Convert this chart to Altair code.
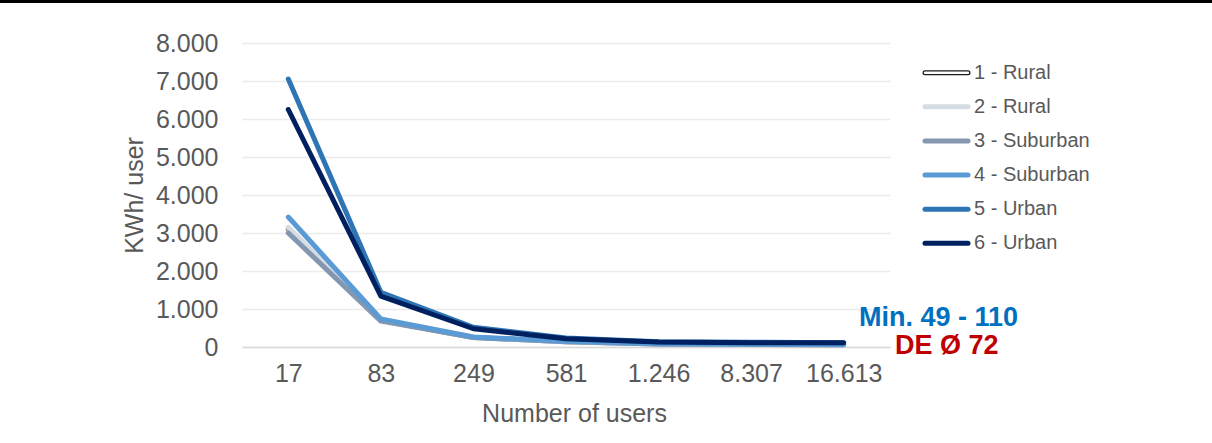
import altair as alt
import pandas as pd

# ---------------- data ----------------
users = ["17", "83", "249", "581", "1.246", "8.307", "16.613"]
series_names = ["1 - Rural", "2 - Rural", "3 - Suburban", "4 - Suburban", "5 - Urban", "6 - Urban"]
rural_1 = [3100, 700, 250, 140, 80, 70, 60]
rural_2 = [3150, 710, 255, 140, 80, 70, 60]
suburban_3 = [3000, 680, 250, 140, 80, 70, 60]
suburban_4 = [3420, 740, 265, 150, 85, 75, 65]
urban_5 = [7050, 1440, 520, 240, 140, 125, 115]
urban_6 = [6250, 1340, 480, 220, 130, 115, 110]
series_colors = ["#ffffff", "#d6dce4", "#8497b0", "#5b9bd5", "#2e75b6", "#002060"]
y_ticks = [0, 1000, 2000, 3000, 4000, 5000, 6000, 7000, 8000]
annotations = ["Min. 49 - 110", "DE Ø 72"]
annotation_colors = ["#0070C0", "#C00000"]

all_series = [rural_1, rural_2, suburban_3, suburban_4, urban_5, urban_6]
rows = []
for name, vals in zip(series_names, all_series):
    for u, v in zip(users, vals):
        rows.append({"series": name, "users": u, "value": v})
df = pd.DataFrame(rows)
legend_df = pd.DataFrame({"series": series_names})

FONT = "Liberation Sans"
GREY = "#595959"

x_enc = alt.X(
    "users:N",
    sort=users,
    scale=alt.Scale(type="point", domain=users, padding=0.5),
    axis=alt.Axis(
        title="Number of users", labelAngle=0, labelFontSize=25, labelColor=GREY,
        labelPadding=14, labelFont=FONT, domain=True, domainColor="#d9d9d9",
        domainWidth=1.5, ticks=False, grid=False, titleFontSize=25,
        titleFontWeight="normal", titleColor=GREY, titleFont=FONT,
        titleX=332, titleY=74, titleBaseline="alphabetic",
    ),
)
y_enc = alt.Y(
    "value:Q",
    scale=alt.Scale(domain=[0, 8000], nice=False),
    axis=alt.Axis(
        values=y_ticks,
        labelExpr="replace(format(datum.value, ','), ',', '.')",
        labelFontSize=25, labelColor=GREY, labelPadding=24, labelFont=FONT,
        domain=False, ticks=False, gridColor="#ebebeb", gridWidth=1.3,
        title="KWh/ user", titleFontSize=25, titleFontWeight="normal",
        titleColor=GREY, titleFont=FONT, titleAngle=-90, titleX=-100,
        titleY=152, titleAlign="center", titleBaseline="alphabetic",
    ),
)
color_enc = alt.Color(
    "series:N", scale=alt.Scale(domain=series_names, range=series_colors), legend=None
)
is_first = f"datum.series == '{series_names[0]}'"

base = alt.Chart(df)
outline = base.mark_line(color="#7f7f7f", strokeWidth=5, strokeCap="round", strokeJoin="round").encode(
    x=x_enc, y=y_enc, detail="series:N"
).transform_filter(is_first)
lines = base.mark_line(strokeCap="round", strokeJoin="round").encode(
    x=x_enc, y=y_enc, color=color_enc,
    strokeWidth=alt.condition(is_first, alt.value(2.6), alt.value(5)),
)
plot_layer = alt.layer(outline, lines)

# ---------------- manual legend ----------------
leg_y = alt.Y("series:N", sort=series_names,
              scale=alt.Scale(type="point", domain=series_names, range=[29.7, 200.3], padding=0),
              axis=None)
lbase = alt.Chart(legend_df)
leg_outline = lbase.mark_rule(color="#1a1a1a", strokeWidth=5, strokeCap="round").encode(
    x=alt.value(683), x2=alt.value(726), y=leg_y
).transform_filter(is_first)
leg_rules = lbase.mark_rule(strokeCap="round").encode(
    x=alt.value(683), x2=alt.value(726), y=leg_y, color=color_enc,
    strokeWidth=alt.condition(is_first, alt.value(2.4), alt.value(5)),
)
leg_text = lbase.mark_text(align="left", baseline="middle", fontSize=20, color=GREY, font=FONT).encode(
    x=alt.value(732), y=leg_y, text="series:N"
)
legend_layer = alt.layer(leg_outline, leg_rules, leg_text)

# ---------------- annotations ----------------
ann1 = alt.Chart(pd.DataFrame({"label": [annotations[0]]})).mark_text(
    align="left", baseline="alphabetic", fontSize=27, fontWeight="bold",
    color=annotation_colors[0], font=FONT
).encode(x=alt.value(617), y=alt.value(282.5), text="label:N")
ann2 = alt.Chart(pd.DataFrame({"label": [annotations[1]]})).mark_text(
    align="left", baseline="alphabetic", fontSize=27, fontWeight="bold",
    color=annotation_colors[1], font=FONT
).encode(x=alt.value(653), y=alt.value(310.5), text="label:N")

top_rule = alt.Chart(pd.DataFrame({"k": [0]})).mark_rule(color="black", strokeWidth=3).encode(
    x=alt.value(-242), x2=alt.value(970), y=alt.value(-41.5)
)

chart = alt.layer(plot_layer, legend_layer, ann1, ann2, top_rule).resolve_scale(
    y="independent"
).properties(
    width=648,
    height=304,
    autosize=alt.AutoSizeParams(type="none"),
    padding={"left": 242, "top": 43, "right": 322, "bottom": 96},
    background="white",
).configure_view(stroke=None)

chart.save("out.html", embed_options={"renderer": "svg", "actions": False})
